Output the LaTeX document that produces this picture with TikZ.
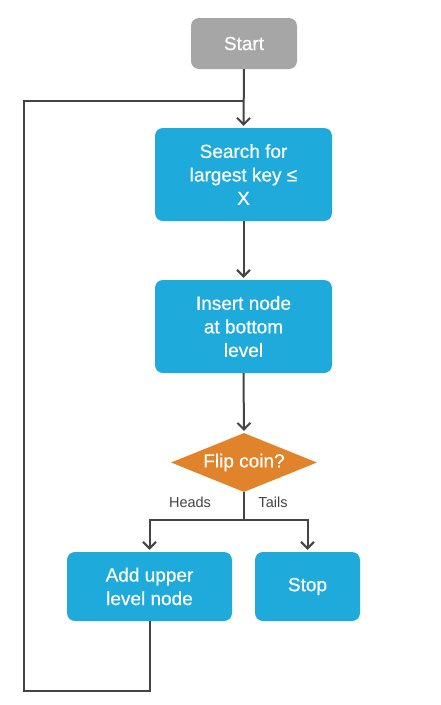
\documentclass[tikz,border=0pt]{standalone}
\usepackage{fontspec}
\setmainfont{Liberation Sans}
\newfontfamily\medfont{Liberation Sans}[FakeBold=0.5]
\usetikzlibrary{shapes.geometric,arrows.meta}
\definecolor{boxblue}{HTML}{1FAADC}
\definecolor{startgray}{HTML}{A6A6A6}
\definecolor{coinorange}{HTML}{E0832B}
\definecolor{linegray}{HTML}{444444}
\tikzset{
  box/.style={rectangle, rounded corners=8pt, fill=boxblue, text=white, align=center,
    font=\medfont\fontsize{19}{23.5}\selectfont, inner sep=0pt},
  startbox/.style={rectangle, rounded corners=8pt, fill=startgray, text=white, align=center,
    font=\medfont\fontsize{19}{23.5}\selectfont, inner sep=0pt, minimum width=106pt, minimum height=51pt},
  coin/.style={diamond, fill=coinorange, text=white, font=\medfont\fontsize{19}{21}\selectfont,
    inner sep=0pt, minimum width=146pt, minimum height=59pt, aspect=2.47},
  conn/.style={draw=linegray, line width=2pt},
  arr/.style={conn, -{Straight Barb[length=6.5pt,width=13pt,line width=2pt]}, shorten >=2pt},
  lbl/.style={text=linegray, font=\fontsize{14.5}{17}\selectfont},
}
\begin{document}
\begin{tikzpicture}[x=1pt,y=-1pt]
\useasboundingbox (0,0) rectangle (440,705);
\fill[white] (0,0) rectangle (440,705);
\node[startbox] (start) at (244,43.5) {Start};
\node[box, minimum width=177pt, minimum height=93pt] (search) at (243.5,174.5) {Search for\\largest key ≤\\X};
\node[box, minimum width=177pt, minimum height=93pt] (insert) at (243.5,326.5) {Insert node\\at bottom\\level};
\node[coin] (flip) at (244,462.5) {Flip coin?};
\node[box, minimum width=165pt, minimum height=69pt] (add) at (149.5,586.5) {Add upper\\level node};
\node[box, minimum width=105pt, minimum height=69pt] (stop) at (307.5,586.5) {Stop};
\coordinate (split) at (244,520);
\coordinate (loopa) at (150,691);
\coordinate (loopb) at (24,691);
\coordinate (loopc) at (24,101);
\coordinate (join) at (244,101);
\draw[arr] (start.south) -- (search.north);
\draw[arr] (search.south) -- (insert.north);
\draw[arr] (insert.south) -- (flip.north);
\draw[conn] (flip.south) -- (split);
\draw[arr] (split) -| (add.north);
\draw[arr] (split) -| (stop.north);
\draw[conn, line join=miter] (add.south -| loopa) -- (loopa) -- (loopb) -- (loopc) -- (join);
\node[lbl] (heads) at (190,502) {Heads};
\node[lbl] (tails) at (273,502) {Tails};
\end{tikzpicture}
\end{document}
